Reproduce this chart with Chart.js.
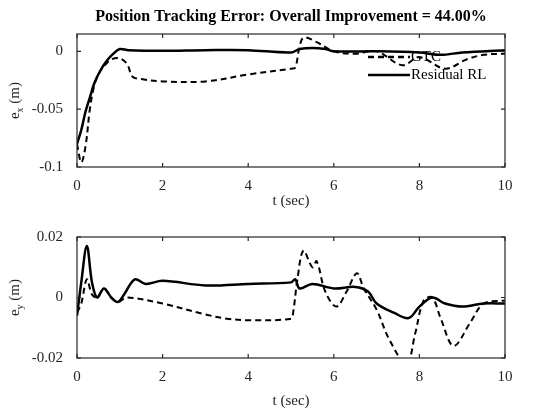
<!DOCTYPE html>
<html><head><meta charset="utf-8">
<script src="https://cdn.jsdelivr.net/npm/chart.js@4"></script>
<style>body{margin:0;background:#fff}canvas{position:absolute;left:0}</style>
</head><body>
<canvas id="c1" width="560" height="210" style="top:0"></canvas>
<canvas id="c2" width="560" height="210" style="top:210px"></canvas>
<script>
const titleText = "Position Tracking Error: Overall Improvement = 44.00%";
const xTicks = [0,2,4,6,8,10];
const yTicksTop = [-0.1,-0.05,0];
const yTicksBot = [-0.02,0,0.02];
const seriesNames = ["GTC","Residual RL"];

const tRLx = [0,0.1,0.2,0.3,0.4,0.54,0.7,0.85,1.0,1.2,2,3,4,5,5.2,5.5,5.8,6,7,8,8.5,9,10];
const eRLx = [-0.08,-0.068,-0.052,-0.04,-0.028,-0.017,-0.008,-0.002,0.002,0.001,0.0005,0.001,0.001,-0.001,0.002,0.003,0.002,0,0,-0.001,-0.003,-0.001,0.001];
const tGTCx = [0,0.1,0.2,0.3,0.4,0.5,0.65,0.8,1.0,1.17,1.3,1.5,2,3,4,5,5.1,5.2,5.3,5.6,6,6.5,7,7.6,8,8.6,9.1,9.5,10];
const eGTCx = [-0.08,-0.096,-0.082,-0.05,-0.03,-0.02,-0.012,-0.007,-0.006,-0.011,-0.022,-0.024,-0.026,-0.026,-0.02,-0.015,-0.014,0.004,0.012,0.008,0.0,-0.002,0.0,-0.012,-0.005,-0.015,-0.007,-0.003,-0.002];

const tRLy = [0,0.1,0.23,0.35,0.47,0.63,0.8,0.95,1.1,1.35,1.6,2,3,4,5,5.1,5.2,5.5,6,6.5,6.8,7,7.4,7.75,8.0,8.3,8.6,9,9.5,10];
const eRLy = [-0.006,0.005,0.017,0.005,0.0,0.003,0.0,-0.0015,0.001,0.006,0.0045,0.0055,0.004,0.0045,0.005,0.006,0.003,0.0045,0.003,0.0035,0.002,-0.002,-0.005,-0.0068,-0.003,0.0,-0.002,-0.003,-0.002,-0.002];
const tGTCy = [0,0.1,0.23,0.35,0.47,0.63,0.8,0.95,1.17,2,3,3.5,4,5,5.05,5.15,5.29,5.5,5.6,5.8,6.06,6.3,6.54,6.7,7,7.3,7.7,7.9,8.1,8.3,8.5,8.8,9.2,9.5,10];
const eGTCy = [-0.005,-0.002,0.006,0.001,0.0,0.003,0.0,-0.0015,0.0,-0.002,-0.0056,-0.007,-0.0075,-0.007,-0.005,0.006,0.0155,0.01,0.012,0.002,-0.003,0.002,0.008,0.003,-0.004,-0.014,-0.022,-0.012,-0.001,0.0,-0.007,-0.016,-0.008,-0.002,-0.001];

const F = "'Liberation Serif', serif";
const pts = (t,v)=>t.map((x,i)=>({x:x,y:v[i]}));

function boxPlugin(ylab, legend, title){
  return {id:'box', afterDraw(ch){
    const c=ch.ctx, a=ch.chartArea, xs=ch.scales.x, ys=ch.scales.y;
    c.save(); c.strokeStyle='#262626'; c.lineWidth=1.2;
    c.strokeRect(a.left,a.top,a.right-a.left,a.bottom-a.top);
    xs.ticks.forEach(t=>{const p=xs.getPixelForValue(t.value);
      c.beginPath();c.moveTo(p,a.bottom);c.lineTo(p,a.bottom-4);c.moveTo(p,a.top);c.lineTo(p,a.top+4);c.stroke();});
    ys.ticks.forEach(t=>{const p=ys.getPixelForValue(t.value);
      c.beginPath();c.moveTo(a.left,p);c.lineTo(a.left+4,p);c.moveTo(a.right,p);c.lineTo(a.right-4,p);c.stroke();});
    c.fillStyle='#262626';
    c.translate(15,(a.top+a.bottom)/2); c.rotate(-Math.PI/2);
    c.font="15px "+F; c.textBaseline='middle';
    const w1=c.measureText('e').width; c.font="10px "+F; const w2=c.measureText(ylab).width;
    c.font="15px "+F; const w3=c.measureText(' (m)').width; let x0=-(w1+w2+w3)/2;
    c.fillText('e',x0,0); c.font="10px "+F; c.fillText(ylab,x0+w1,5); c.font="15px "+F; c.fillText(' (m)',x0+w1+w2,0);
    c.restore();
    if(title){c.save();c.fillStyle='#000';c.font="bold 16px "+F;c.textAlign='center';c.textBaseline='middle';c.fillText(title,(a.left+a.right)/2,17);c.restore();}
    if(legend){
      c.save(); c.fillStyle='#000'; c.strokeStyle='#000'; c.lineWidth=2.5; c.font="15px "+F; c.textBaseline='middle';
      const rows=[[seriesNames[0],[6,4],57],[seriesNames[1],[],75]];
      rows.forEach(r=>{c.setLineDash(r[1]);c.beginPath();c.moveTo(368,r[2]);c.lineTo(410,r[2]);c.stroke();c.fillText(r[0],411,r[2]);});
      c.restore();
    }
  }};
}

function make(id, gtc, rl, ymin, ymax, yt, ylab, legend, title, top, xh, bot){
  new Chart(document.getElementById(id),{type:'line',
    data:{datasets:[
      {label:seriesNames[0],data:gtc,borderColor:'#000',borderWidth:2,borderDash:[6,4],pointRadius:0,tension:0.35},
      {label:seriesNames[1],data:rl,borderColor:'#000',borderWidth:2.5,pointRadius:0,tension:0.35}]},
    options:{responsive:false,animation:false,
      layout:{padding:{left:0,right:55,top:top,bottom:bot}},
      plugins:{legend:{display:false},tooltip:{enabled:false}},
      scales:{
        x:{type:'linear',min:0,max:10,afterBuildTicks:s=>{s.ticks=xTicks.map(v=>({value:v}))},
          grid:{display:false},border:{display:false},
          ticks:{color:'#262626',font:{family:F,size:15},padding:2,maxRotation:0},
          title:{display:true,text:'t (sec)',color:'#262626',font:{family:F,size:15},padding:0},
          afterFit:s=>{s.height=xh}},
        y:{type:'linear',min:ymin,max:ymax,afterBuildTicks:s=>{s.ticks=yt.map(v=>({value:v}))},
          grid:{display:false},border:{display:false},
          ticks:{color:'#262626',font:{family:F,size:15},padding:6,callback:v=>String(v)},
          afterFit:s=>{s.width=77}}
      }},
    plugins:[boxPlugin(ylab,legend,title)]});
}
make('c1',pts(tGTCx,eGTCx),pts(tRLx,eRLx),-0.1,0.015,yTicksTop,'x',true,titleText,34,43,0);
make('c2',pts(tGTCy,eGTCy),pts(tRLy,eRLy),-0.02,0.02,yTicksBot,'y',false,null,27,52,10);
</script></body></html>
